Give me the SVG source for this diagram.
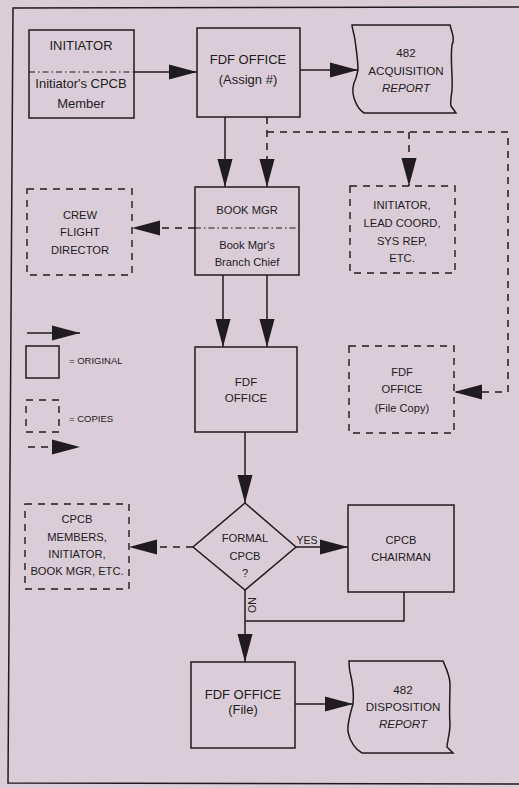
<svg xmlns="http://www.w3.org/2000/svg" width="519" height="788" viewBox="0 0 519 788">
<defs>
<style>
.bg{fill:#dacdd7}
.box{fill:none;stroke:#1f1b1f;stroke-width:1.5}
.cbox{fill:none;stroke:#1f1b1f;stroke-width:1.4;stroke-dasharray:7,6}
.dd{fill:none;stroke:#1f1b1f;stroke-width:1.2;stroke-dasharray:6,3,1.5,3}
.ln{fill:none;stroke:#1f1b1f;stroke-width:1.5}
.dl{fill:none;stroke:#1f1b1f;stroke-width:1.5;stroke-dasharray:7,6}
text{font-family:"Liberation Sans",Arial,Helvetica,sans-serif;fill:#1f1b1f;text-anchor:middle}
.t13{font-size:13px}
.t12{font-size:11.6px}
.t11{font-size:11.2px}
.leg{font-size:9.5px;text-anchor:start}
.it{font-style:italic}
</style>
<marker id="ah" markerUnits="userSpaceOnUse" markerWidth="28" markerHeight="16" viewBox="0 0 26 14" refX="26" refY="7" orient="auto">
<path d="M0,0 L26,7 L0,14 z" fill="#1f1b1f"/>
</marker>
</defs>
<rect class="bg" x="0" y="0" width="519" height="788"/>
<path class="ln" d="M519,7 L13,8 L8,783 L519,784"/>

<g id="initiator">
<rect class="box" x="29" y="30" width="105" height="88"/>
<line class="dd" x1="29" y1="72" x2="134" y2="72"/>
<text class="t13" x="81" y="50">INITIATOR</text>
<text class="t13" x="81" y="88">Initiator's CPCB</text>
<text class="t13" x="81" y="108">Member</text>
</g>

<g id="fdf-assign">
<rect class="box" x="197" y="28" width="103" height="89"/>
<text class="t13" x="248" y="64">FDF OFFICE</text>
<text class="t13" x="248" y="84">(Assign #)</text>
</g>

<g id="acq-report">
<path class="box" d="M352,25 L450,25 C452,33 455,38 452,45 C450,60 453,75 452,90 C451,98 450,104 451,106 L456,113 L364,113 C359,110 356,104 354,98 C352,92 353,84 356,78 L358,70 C358,60 356,48 355,40 C354,33 352,28 352,25 Z"/>
<text class="t12" x="406" y="57">482</text>
<text class="t12" x="406" y="75">ACQUISITION</text>
<text class="t12 it" x="406" y="92">REPORT</text>
</g>

<g id="book-mgr">
<rect class="box" x="195" y="187" width="104" height="88"/>
<line class="dd" x1="195" y1="228" x2="299" y2="228"/>
<text class="t11" x="247" y="214">BOOK MGR</text>
<text class="t11" x="247" y="249">Book Mgr's</text>
<text class="t11" x="247" y="266">Branch Chief</text>
</g>

<g id="crew-flight-director">
<rect class="cbox" x="27" y="189" width="105" height="86"/>
<text class="t11" x="80" y="219">CREW</text>
<text class="t11" x="80" y="236">FLIGHT</text>
<text class="t11" x="80" y="254">DIRECTOR</text>
</g>

<g id="initiator-lead">
<rect class="cbox" x="350" y="186" width="105" height="87"/>
<text class="t11" x="402" y="209">INITIATOR,</text>
<text class="t11" x="402" y="227">LEAD COORD,</text>
<text class="t11" x="402" y="245">SYS REP,</text>
<text class="t11" x="402" y="262">ETC.</text>
</g>

<g id="legend">
<line class="ln" x1="27" y1="333" x2="80" y2="333" marker-end="url(#ah)"/>
<rect class="box" x="26" y="346" width="33" height="32"/>
<text class="leg" x="69" y="364">= ORIGINAL</text>
<rect class="cbox" x="26" y="400" width="33" height="32"/>
<text class="leg" x="69" y="422">= COPIES</text>
<line class="dl" x1="28" y1="447" x2="80" y2="447" marker-end="url(#ah)"/>
</g>

<g id="fdf-office">
<rect class="box" x="195" y="347" width="102" height="85"/>
<text class="t12" x="246" y="386">FDF</text>
<text class="t12" x="246" y="402">OFFICE</text>
</g>

<g id="fdf-file-copy">
<rect class="cbox" x="349" y="346" width="105" height="87"/>
<text class="t11" x="402" y="376">FDF</text>
<text class="t11" x="402" y="393">OFFICE</text>
<text class="t11" x="402" y="412">(File Copy)</text>
</g>

<g id="formal-cpcb">
<polygon class="box" points="245,503 296,547 245,590 193,547"/>
<text class="t11" x="245" y="542">FORMAL</text>
<text class="t11" x="245" y="560">CPCB</text>
<text class="t11" x="245" y="577">?</text>
</g>

<g id="cpcb-members">
<rect class="cbox" x="25" y="504" width="104" height="85"/>
<text class="t11" x="77" y="523">CPCB</text>
<text class="t11" x="77" y="541">MEMBERS,</text>
<text class="t11" x="77" y="558">INITIATOR,</text>
<text class="t11" x="77" y="575">BOOK MGR, ETC.</text>
</g>

<g id="cpcb-chairman">
<rect class="box" x="348" y="505" width="106" height="87"/>
<text class="t11" x="401" y="544">CPCB</text>
<text class="t11" x="401" y="561">CHAIRMAN</text>
</g>

<g id="fdf-file">
<rect class="box" x="191" y="662" width="104" height="86"/>
<text class="t13" x="243" y="699">FDF OFFICE</text>
<text class="t13" x="243" y="714">(File)</text>
</g>

<g id="disp-report">
<path class="box" d="M349,661 L443,661 C446,668 450,676 450,684 C450,698 449,712 450,724 C450,734 447,742 447,747 L453,753 L362,753 C356,750 350,742 348,732 C347,724 350,714 353,704 C354,694 352,680 350,672 C349,667 349,664 349,661 Z"/>
<text class="t12" x="403" y="694">482</text>
<text class="t12" x="403" y="711">DISPOSITION</text>
<text class="t12 it" x="403" y="728">REPORT</text>
</g>

<g id="connectors">
<line class="ln" x1="134" y1="72" x2="197" y2="72" marker-end="url(#ah)"/>
<line class="ln" x1="300" y1="70" x2="358" y2="70" marker-end="url(#ah)"/>
<line class="ln" x1="225" y1="117" x2="225" y2="187" marker-end="url(#ah)"/>
<line class="dl" x1="267" y1="117" x2="267" y2="187" marker-end="url(#ah)"/>
<path class="dl" d="M267,132 L508,132 L508,392 L454,392" marker-end="url(#ah)"/>
<line class="dl" x1="409" y1="132" x2="409" y2="186" marker-end="url(#ah)"/>
<line class="dl" x1="195" y1="228" x2="132" y2="228" marker-end="url(#ah)"/>
<line class="ln" x1="223" y1="275" x2="223" y2="347" marker-end="url(#ah)"/>
<line class="ln" x1="267" y1="275" x2="267" y2="347" marker-end="url(#ah)"/>
<line class="ln" x1="245" y1="432" x2="245" y2="503" marker-end="url(#ah)"/>
<line class="dl" x1="193" y1="547" x2="129" y2="547" marker-end="url(#ah)"/>
<line class="ln" x1="296" y1="547" x2="348" y2="547" marker-end="url(#ah)"/>
<text class="t11" x="307" y="544" style="font-size:10.5px">YES</text>
<path class="ln" d="M404,592 L404,621 L245,621"/>
<line class="ln" x1="245" y1="590" x2="245" y2="662" marker-end="url(#ah)"/>
<text class="t11" transform="translate(248,605) rotate(90)" style="font-size:10.5px">NO</text>
<line class="ln" x1="295" y1="704" x2="353" y2="704" marker-end="url(#ah)"/>
</g>
</svg>
